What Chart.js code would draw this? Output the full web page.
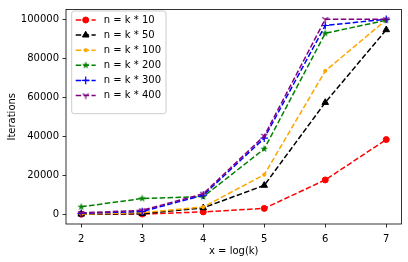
<!DOCTYPE html>
<html><head><meta charset="utf-8">
<script src="https://cdn.jsdelivr.net/npm/chart.js@4/dist/chart.umd.min.js"></script>
<style>html,body{margin:0;padding:0;background:#fff}canvas{display:block}</style>
</head><body><canvas id="c" width="408" height="262"></canvas>
<script>
// ---- data ----
const xValues = [2, 3, 4, 5, 6, 7];
const seriesLabels = ['n = k * 10', 'n = k * 50', 'n = k * 100', 'n = k * 200', 'n = k * 300', 'n = k * 400'];
const n10  = [10, 100, 1200, 3000, 17600, 38300];
const n50  = [50, 300, 3300, 14800, 57300, 94600];
const n100 = [100, 800, 3700, 20300, 73500, 99700];
const n200 = [3800, 8100, 9000, 33500, 92800, 99500];
const n300 = [500, 1400, 9800, 39000, 96800, 100000];
const n400 = [700, 2000, 10500, 40200, 100000, 100000];
const yTickValues = [0, 20000, 40000, 60000, 80000, 100000];
const xTickValues = [2, 3, 4, 5, 6, 7];
const xTitle = 'x = log(k)';
const yTitle = 'Iterations';

// ---- styles ----
const FONT = '10px "DejaVu Sans"';
const colors = ['#ff0000', '#000000', '#ffa500', '#008000', '#0000ff', '#800080'];

function makeStar(color) {
  const c = document.createElement('canvas'); c.width = 10; c.height = 10;
  const g = c.getContext('2d'); g.translate(5, 5); g.beginPath();
  for (let i = 0; i < 10; i++) {
    const r = i % 2 === 0 ? 4 : 1.6;
    const a = -Math.PI / 2 + i * Math.PI / 5;
    const px = r * Math.cos(a), py = r * Math.sin(a);
    i === 0 ? g.moveTo(px, py) : g.lineTo(px, py);
  }
  g.closePath(); g.fillStyle = color; g.fill();
  return c;
}
function makeTriDown(color) {
  const c = document.createElement('canvas'); c.width = 10; c.height = 10;
  const g = c.getContext('2d'); g.translate(5, 5); g.strokeStyle = color; g.lineWidth = 1.2;
  g.beginPath();
  g.moveTo(0, 0); g.lineTo(0, 3.6);
  g.moveTo(0, 0); g.lineTo(-3.1, -1.8);
  g.moveTo(0, 0); g.lineTo(3.1, -1.8);
  g.stroke();
  return c;
}
const markers = [
  {style: 'circle', radius: 3, bw: 1},
  {style: 'triangle', radius: 3.8, bw: 1},
  {style: 'circle', radius: 1.6, bw: 1},
  {style: makeStar(colors[3]), radius: 4, bw: 0},
  {style: 'cross', radius: 3.8, bw: 1.2},
  {style: makeTriDown(colors[5]), radius: 4, bw: 0}
];
const seriesValues = [n10, n50, n100, n200, n300, n400];
const DASH = [5.5, 2.4];

const datasets = seriesValues.map((vals, i) => ({
  label: seriesLabels[i],
  data: xValues.map((x, j) => ({x: x, y: vals[j]})),
  borderColor: colors[i],
  backgroundColor: colors[i],
  pointBackgroundColor: colors[i],
  pointBorderColor: colors[i],
  borderWidth: 1.5,
  borderDash: DASH,
  pointStyle: markers[i].style,
  pointRadius: markers[i].radius,
  pointBorderWidth: markers[i].bw,
  fill: false,
  tension: 0,
  order: 6 - i
}));

const framePlugin = {
  id: 'frameLegend',
  afterDraw(chart) {
    const ctx = chart.ctx, a = chart.chartArea;
    ctx.save();
    // frame
    ctx.strokeStyle = '#000'; ctx.lineWidth = 0.8; ctx.setLineDash([]);
    ctx.strokeRect(a.left, a.top, a.right - a.left, a.bottom - a.top);
    // axis titles
    ctx.fillStyle = '#000'; ctx.font = FONT; ctx.textAlign = 'center'; ctx.textBaseline = 'middle';
    ctx.fillText(xTitle, (a.left + a.right) / 2, 251);
    ctx.save(); ctx.translate(12, (a.top + a.bottom) / 2); ctx.rotate(-Math.PI / 2);
    ctx.fillText(yTitle, 0, 0); ctx.restore();
    // legend box
    const bx = 71.7, by = 11, bw = 94.3, bh = 102.7, r = 2.5;
    ctx.beginPath();
    ctx.moveTo(bx + r, by); ctx.lineTo(bx + bw - r, by); ctx.arcTo(bx + bw, by, bx + bw, by + r, r);
    ctx.lineTo(bx + bw, by + bh - r); ctx.arcTo(bx + bw, by + bh, bx + bw - r, by + bh, r);
    ctx.lineTo(bx + r, by + bh); ctx.arcTo(bx, by + bh, bx, by + bh - r, r);
    ctx.lineTo(bx, by + r); ctx.arcTo(bx, by, bx + r, by, r); ctx.closePath();
    ctx.fillStyle = 'rgba(255,255,255,0.8)'; ctx.fill();
    ctx.strokeStyle = '#cccccc'; ctx.lineWidth = 1; ctx.stroke();
    chart.data.datasets.forEach((ds, i) => {
      const y = 20 + i * 15.1;
      ctx.setLineDash(DASH); ctx.strokeStyle = ds.borderColor; ctx.lineWidth = 1.5;
      ctx.beginPath(); ctx.moveTo(75.7, y); ctx.lineTo(95.7, y); ctx.stroke();
      ctx.setLineDash([]);
      ctx.fillStyle = ds.pointBackgroundColor; ctx.strokeStyle = ds.pointBorderColor;
      ctx.lineWidth = ds.pointBorderWidth;
      Chart.helpers.drawPoint(ctx, {pointStyle: ds.pointStyle, radius: ds.pointRadius, borderWidth: ds.pointBorderWidth, rotation: 0}, 85.7, y);
      ctx.fillStyle = '#000'; ctx.font = FONT; ctx.textAlign = 'left'; ctx.textBaseline = 'middle';
      ctx.fillText(ds.label, 103.7, y);
    });
    ctx.restore();
  }
};

new Chart(document.getElementById('c'), {
  type: 'line',
  data: {datasets},
  plugins: [framePlugin],
  options: {
    responsive: false, animation: false, devicePixelRatio: 1,
    layout: {padding: {top: 5.5, right: 6.5, left: 0, bottom: 0}},
    plugins: {legend: {display: false}, tooltip: {enabled: false}},
    scales: {
      x: {
        type: 'linear', min: 1.75, max: 7.25,
        afterFit(s) { s.height = 38; },
        afterBuildTicks(s) { s.ticks = xTickValues.map(v => ({value: v})); },
        grid: {drawOnChartArea: false, drawTicks: true, tickLength: 3.5, tickColor: '#000', tickWidth: 0.8},
        border: {display: false},
        ticks: {font: {family: 'DejaVu Sans', size: 10}, color: '#000', padding: 5.5, maxRotation: 0, callback: v => String(v)}
      },
      y: {
        type: 'linear', min: -5000, max: 105000,
        afterFit(s) { s.width = 66; },
        afterBuildTicks(s) { s.ticks = yTickValues.map(v => ({value: v})); },
        grid: {drawOnChartArea: false, drawTicks: true, tickLength: 3.5, tickColor: '#000', tickWidth: 0.8},
        border: {display: false},
        ticks: {font: {family: 'DejaVu Sans', size: 10}, color: '#000', padding: 3.5, callback: v => String(v)}
      }
    }
  }
});
</script>
</body></html>
